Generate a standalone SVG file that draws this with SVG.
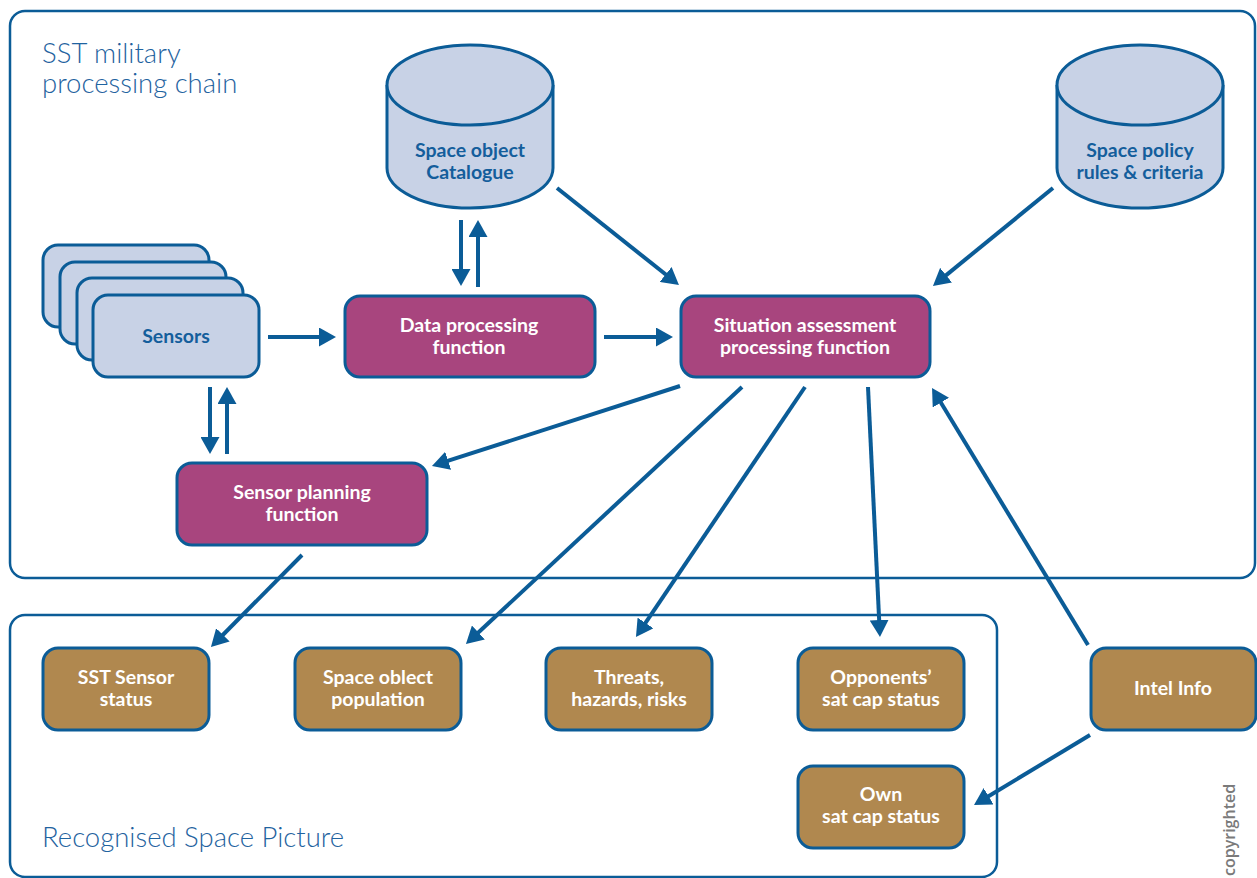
<svg xmlns="http://www.w3.org/2000/svg" width="1257" height="878" viewBox="0 0 1257 878">
  <style>
    .frame { fill: none; stroke: #0b5c97; stroke-width: 2.5; }
    .db { fill: #c8d2e6; stroke: #0b5c97; stroke-width: 3; }
    .sensor { fill: #c8d2e6; stroke: #0b5c97; stroke-width: 3; }
    .func { fill: #a8457e; stroke: #0b5c97; stroke-width: 3; }
    .out { fill: #b0884f; stroke: #0b5c97; stroke-width: 3; }
    .title { font-family: Lato, "Open Sans", "Liberation Sans", sans-serif; font-weight: 300; font-size: 27.5px; fill: #1f63a0; }
    .lbl { font-family: Lato, "Liberation Sans", sans-serif; font-weight: 700; font-size: 19.5px; text-anchor: middle; }
    .blue { fill: #145e9c; }
    .white { fill: #ffffff; }
    .conn line { stroke: #0b5c97; stroke-width: 4; marker-end: url(#head); }
    .note { font-family: "Open Sans", "Liberation Sans", sans-serif; font-size: 16px; font-weight: 600; fill: #7a7a7a; }
  </style>
  <defs>
    <marker id="head" markerUnits="userSpaceOnUse" markerWidth="17" markerHeight="19" refX="3" refY="9.5" orient="auto" viewBox="0 0 17 19">
      <path d="M0,0 L17,9.5 L0,19 Z" fill="#0b5c97"/>
    </marker>
  </defs>

  <!-- containers -->
  <g id="chain-frame">
    <rect class="frame" x="10" y="11" width="1245" height="567" rx="15"/>
    <text class="title" x="42" y="63">SST military</text>
    <text class="title" x="42" y="93">processing chain</text>
  </g>
  <g id="rsp-frame">
    <rect class="frame" x="10" y="615" width="987" height="262" rx="15"/>
    <text class="title" x="42" y="847">Recognised Space Picture</text>
  </g>

  <!-- databases -->
  <g id="catalogue">
    <path class="db" d="M387,85 A83,40 0 0 1 553,85 L553,168 A83,40 0 0 1 387,168 Z"/>
    <path class="db" d="M387,85 A83,40 0 0 0 553,85" fill="none"/>
    <text class="lbl blue" x="470" y="157">Space object</text>
    <text class="lbl blue" x="470" y="179">Catalogue</text>
  </g>
  <g id="policy">
    <path class="db" d="M1057,85 A83,40 0 0 1 1223,85 L1223,168 A83,40 0 0 1 1057,168 Z"/>
    <path class="db" d="M1057,85 A83,40 0 0 0 1223,85" fill="none"/>
    <text class="lbl blue" x="1140" y="157">Space policy</text>
    <text class="lbl blue" x="1140" y="179">rules &amp; criteria</text>
  </g>

  <!-- sensors stack -->
  <g id="sensors">
    <rect class="sensor" x="43" y="245" width="166" height="82" rx="15"/>
    <rect class="sensor" x="60" y="262" width="166" height="82" rx="15"/>
    <rect class="sensor" x="77" y="278" width="166" height="82" rx="15"/>
    <rect class="sensor" x="93" y="295" width="166" height="82" rx="15"/>
    <text class="lbl blue" x="176" y="343">Sensors</text>
  </g>

  <!-- processing functions -->
  <g id="data-processing">
    <rect class="func" x="345" y="296" width="250" height="81" rx="15"/>
    <text class="lbl white" x="469" y="332">Data processing</text>
    <text class="lbl white" x="469" y="354">function</text>
  </g>
  <g id="situation-assessment">
    <rect class="func" x="681" y="296" width="249" height="81" rx="15"/>
    <text class="lbl white" x="805" y="332">Situation assessment</text>
    <text class="lbl white" x="805" y="354">processing function</text>
  </g>
  <g id="sensor-planning">
    <rect class="func" x="177" y="463" width="250" height="82" rx="15"/>
    <text class="lbl white" x="302" y="499">Sensor planning</text>
    <text class="lbl white" x="302" y="521">function</text>
  </g>

  <!-- picture products -->
  <g id="sst-sensor-status">
    <rect class="out" x="43" y="648" width="166" height="82" rx="15"/>
    <text class="lbl white" x="126" y="684">SST Sensor</text>
    <text class="lbl white" x="126" y="706">status</text>
  </g>
  <g id="object-population">
    <rect class="out" x="295" y="648" width="166" height="82" rx="15"/>
    <text class="lbl white" x="378" y="684">Space oblect</text>
    <text class="lbl white" x="378" y="706">population</text>
  </g>
  <g id="threats">
    <rect class="out" x="546" y="648" width="166" height="82" rx="15"/>
    <text class="lbl white" x="629" y="684">Threats,</text>
    <text class="lbl white" x="629" y="706">hazards, risks</text>
  </g>
  <g id="opponents">
    <rect class="out" x="798" y="648" width="166" height="82" rx="15"/>
    <text class="lbl white" x="881" y="684">Opponents’</text>
    <text class="lbl white" x="881" y="706">sat cap status</text>
  </g>
  <g id="own">
    <rect class="out" x="798" y="766" width="166" height="82" rx="15"/>
    <text class="lbl white" x="881" y="801">Own</text>
    <text class="lbl white" x="881" y="823">sat cap status</text>
  </g>
  <g id="intel">
    <rect class="out" x="1091" y="648" width="165" height="82" rx="15"/>
    <text class="lbl white" x="1173" y="695">Intel Info</text>
  </g>

  <!-- connectors -->
  <g id="connectors" class="conn">
    <line x1="268" y1="337" x2="322" y2="337"/>
    <line x1="604" y1="337" x2="659" y2="337"/>
    <line x1="461" y1="220" x2="461" y2="272"/>
    <line x1="478" y1="287" x2="478" y2="234"/>
    <line x1="557" y1="188" x2="668" y2="276.3"/>
    <line x1="1053" y1="188" x2="943.8" y2="277.1"/>
    <line x1="210" y1="387" x2="210" y2="440"/>
    <line x1="227" y1="454" x2="227" y2="401"/>
    <line x1="680" y1="386" x2="445.3" y2="461.7"/>
    <line x1="742" y1="387" x2="476.2" y2="634.5"/>
    <line x1="805" y1="387" x2="643.8" y2="625.4"/>
    <line x1="868" y1="387" x2="879.3" y2="623"/>
    <line x1="1088" y1="645" x2="939.3" y2="400"/>
    <line x1="302" y1="555" x2="220.8" y2="637"/>
    <line x1="1090" y1="735" x2="986" y2="797.8"/>
  </g>

  <text class="note" transform="translate(1235,876) rotate(-90)">copyrighted</text>
</svg>
